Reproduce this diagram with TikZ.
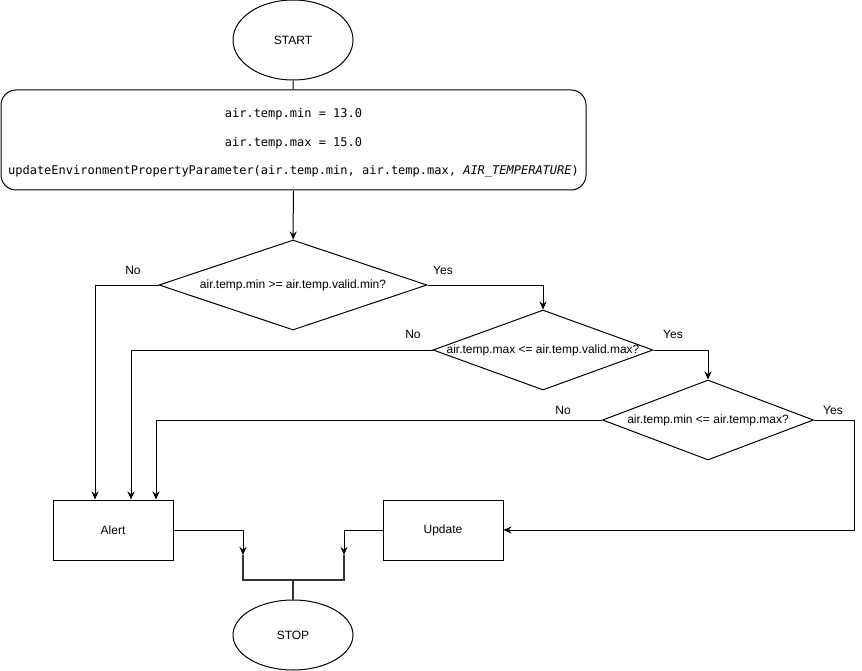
\documentclass[tikz,border=0pt]{standalone}
\usepackage{fontspec}
\setmainfont{Liberation Sans}
\setmonofont{DejaVu Sans Mono}
\usetikzlibrary{shapes.geometric,arrows.meta}
\begin{document}
\begin{tikzpicture}[x=1pt,y=-1pt,
  every node/.style={font=\fontsize{12}{14}\selectfont, inner sep=0pt},
  terminal/.style={draw, line width=1pt, ellipse, minimum width=120pt, minimum height=80pt},
  stepbox/.style={draw, line width=1pt, minimum width=120pt, minimum height=60pt},
  codebox/.style={draw, line width=1pt, rounded corners=15pt, minimum width=585pt, minimum height=100pt},
  codetext/.style={align=center, font=\ttfamily\fontsize{12}{14}\selectfont},
  decision/.style={draw, line width=1pt, diamond},
  flow/.style={line width=1pt, -{Stealth[length=8pt,width=7pt]}},
  plain/.style={line width=1pt},
  joinbar/.style={line width=2.6pt, draw=black!80},
  branch/.style={font=\fontsize{12}{14}\selectfont}
]
\useasboundingbox (0,0) rectangle (862,671);

% start and setup
\node[terminal] (start) at (293,40) {START};
\node[codebox] (setup) at (293.5,140) {};
\node[codetext] (setuptext) at (293.5,143) {air.temp.min = 13.0\\[15pt]
  air.temp.max = 15.0\\[14pt]
  updateEnvironmentPropertyParameter(air.temp.min, air.temp.max, \textit{AIR\_TEMPERATURE})};

% decisions
\node[decision, minimum width=268pt, minimum height=90pt,
  label={center:air.temp.min >= air.temp.valid.min?}] (d1) at (293,285) {};
\node[decision, minimum width=220pt, minimum height=80pt,
  label={center:air.temp.max <= air.temp.valid.max?}] (d2) at (543,350) {};
\node[decision, minimum width=211pt, minimum height=80pt,
  label={center:air.temp.min <= air.temp.max?}] (d3) at (708,420) {};

% outcomes
\node[stepbox] (alert) at (113,530) {Alert};
\node[stepbox] (update) at (443,530) {Update};
\node[terminal, minimum height=70pt] (stop) at (293,635) {STOP};

% join bar in front of STOP
\coordinate (jl) at (243,555);
\coordinate (jr) at (344,555);
\coordinate (jb) at (293,580);
\draw[joinbar] (jl) |- (jb) -| (jr);
\draw[joinbar] (jb) -- (stop.north);

% connectors
\draw[plain] (start) -- (setup);
\draw[flow] (setup) -- (d1);
\draw[flow] (d1.east) -| (d2.north);
\draw[flow] (d1.west) -| ([xshift=-18pt]alert.north);
\draw[flow] (d2.east) -| (d3.north);
\draw[flow] (d2.west) -| ([xshift=18pt]alert.north);
\draw[flow] (d3.west) -| ([xshift=43pt]alert.north);
\draw[flow] (d3.east) -- ++(40,0) |- (update.east);
\draw[flow] (alert.east) -| (jl);
\draw[flow] (update.west) -| (jr);

% branch labels
\node[branch] at (133,270) {No};
\node[branch] at (443,270) {Yes};
\node[branch] at (413,334) {No};
\node[branch] at (673,334) {Yes};
\node[branch] at (563,410) {No};
\node[branch] at (833,410) {Yes};
\end{tikzpicture}
\end{document}
